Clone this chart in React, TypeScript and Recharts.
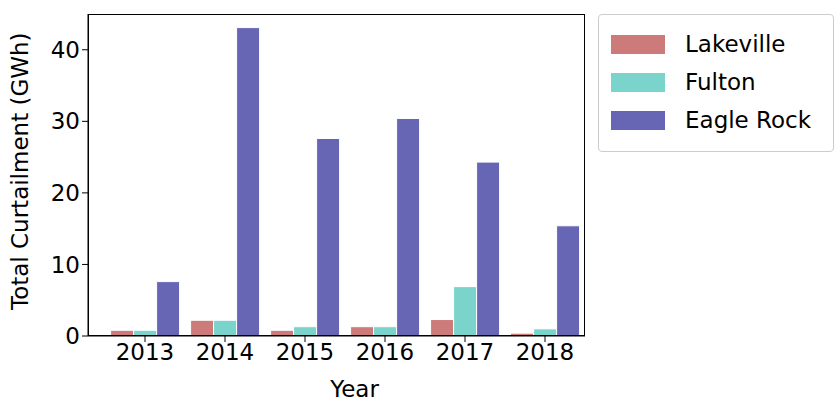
import React from 'react';
import { BarChart, Bar, XAxis, YAxis } from 'recharts';

const years = ['2013', '2014', '2015', '2016', '2017', '2018'];
const lakeville = [0.8, 2.2, 0.8, 1.3, 2.3, 0.4];
const fulton = [0.8, 2.2, 1.3, 1.3, 6.9, 1.0];
const eagleRock = [7.6, 43.1, 27.6, 30.4, 24.3, 15.4];
const yTicks = [0, 10, 20, 30, 40];

const SERIES = [
  { key: 'Lakeville', color: '#cc7a7a' },
  { key: 'Fulton', color: '#7ad4cb' },
  { key: 'Eagle Rock', color: '#6666b4' },
];

const data = years.map((y, i) => ({
  year: y,
  Lakeville: lakeville[i],
  Fulton: fulton[i],
  'Eagle Rock': eagleRock[i],
}));

const font = { fontFamily: 'DejaVu Sans', fontSize: 23, fill: '#000' };

export default function App() {
  return (
    <div style={{ position: 'absolute', left: 0, top: 0, width: 838, height: 401, background: '#fff', fontFamily: 'DejaVu Sans' }}>
      <BarChart
        width={838}
        height={401}
        data={data}
        margin={{ top: 14, right: 253, left: 0, bottom: 0 }}
        barCategoryGap="7%"
        barGap={0}
      >
        <XAxis
          dataKey="year"
          height={65}
          padding={{ left: 17, right: 0 }}
          tick={font}
          tickLine={{ stroke: '#000' }}
          axisLine={{ stroke: '#000' }}
          label={{ value: 'Year', position: 'insideBottom', offset: 4, dx: 18, style: font }}
        />
        <YAxis
          width={88}
          domain={[0, 45]}
          ticks={yTicks}
          tick={font}
          tickLine={{ stroke: '#000' }}
          axisLine={{ stroke: '#000' }}
          label={{ value: 'Total Curtailment (GWh)', angle: -90, position: 'insideLeft', offset: 20, dy: 135, style: font }}
        />
        {SERIES.map((s) => (
          <Bar key={s.key} dataKey={s.key} fill={s.color} stroke="#fff" strokeWidth={1} isAnimationActive={false} />
        ))}
      </BarChart>
      <div style={{ position: 'absolute', left: 88, top: 14, width: 497, height: 322, border: '1px solid #000', boxSizing: 'border-box', pointerEvents: 'none' }} />
      <div
        style={{
          position: 'absolute', left: 598, top: 14, width: 236, height: 138,
          border: '1px solid #ccc', borderRadius: 4, boxSizing: 'border-box', padding: '10px 0 0 12px',
        }}
      >
        {SERIES.map((s) => (
          <div key={s.key} style={{ display: 'flex', alignItems: 'center', height: 38, fontSize: 23 }}>
            <span style={{ width: 54, height: 19, background: s.color, marginRight: 20 }} />
            {s.key}
          </div>
        ))}
      </div>
    </div>
  );
}
